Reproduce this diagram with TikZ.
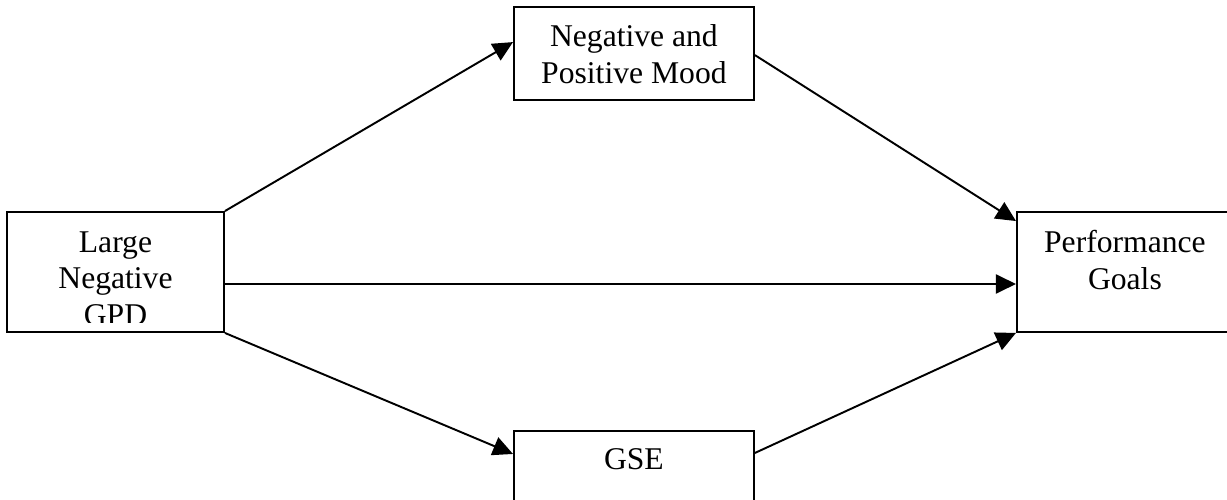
\documentclass[tikz,border=0pt]{standalone}
\usepackage{fontspec}
\setmainfont{Liberation Serif}
\usetikzlibrary{arrows.meta, positioning}
\tikzset{
    box/.style={rectangle, draw=black, line width=1.1pt, fill=white, inner sep=0pt},
    boxtext/.style={align=center, inner sep=0pt, font=\fontsize{18}{21}\selectfont},
    arrow/.style={-{Triangle[length=4mm, width=3.8mm]}, line width=1.1pt, draw=black}
}

\begin{document}
\begin{tikzpicture}[node distance=0.55cm]
    \useasboundingbox (0,0) rectangle (24.54,-10);
    \node[box, minimum width=4.34cm, minimum height=2.4cm] (gpd) at (2.31,-5.44) {};
    \node[box, above right=2.2cm and 5.76cm of gpd, minimum width=4.8cm, minimum height=1.86cm] (mood) {};
    \node[box, below right=1.94cm and 5.76cm of gpd, minimum width=4.8cm, minimum height=1.86cm] (gse) {};
    \node[box, right=15.82cm of gpd, minimum width=4.32cm, minimum height=2.4cm] (goals) {};
    % texts hang from the top of each box
    \begin{scope}
        \clip ([yshift=0.2cm]gpd.south west) rectangle (gpd.north east);
        \node[boxtext, below=0.4cm of gpd.north] (gpdtext) {Large\\Negative\\GPD};
    \end{scope}
    \node[boxtext, below=0.37cm of mood.north] (moodtext) {Negative and\\Positive Mood};
    \node[boxtext, below=0.37cm of gse.north] (gsetext) {GSE};
    \node[boxtext, below=0.37cm of goals.north] (goalstext) {Performance\\Goals};
    \draw[arrow] (gpd.north east) -- ([yshift=-0.72cm]mood.north west);
    \draw[arrow] ([yshift=-0.98cm]mood.north east) -- ([yshift=-0.2cm]goals.north west);
    \draw[arrow] ([yshift=-0.24cm]gpd.east) -- ([yshift=-0.24cm]goals.west);
    \draw[arrow] (gpd.south east) -- ([yshift=-0.48cm]gse.north west);
    \draw[arrow] ([yshift=-0.46cm]gse.north east) -- (goals.south west);
\end{tikzpicture}
\end{document}
